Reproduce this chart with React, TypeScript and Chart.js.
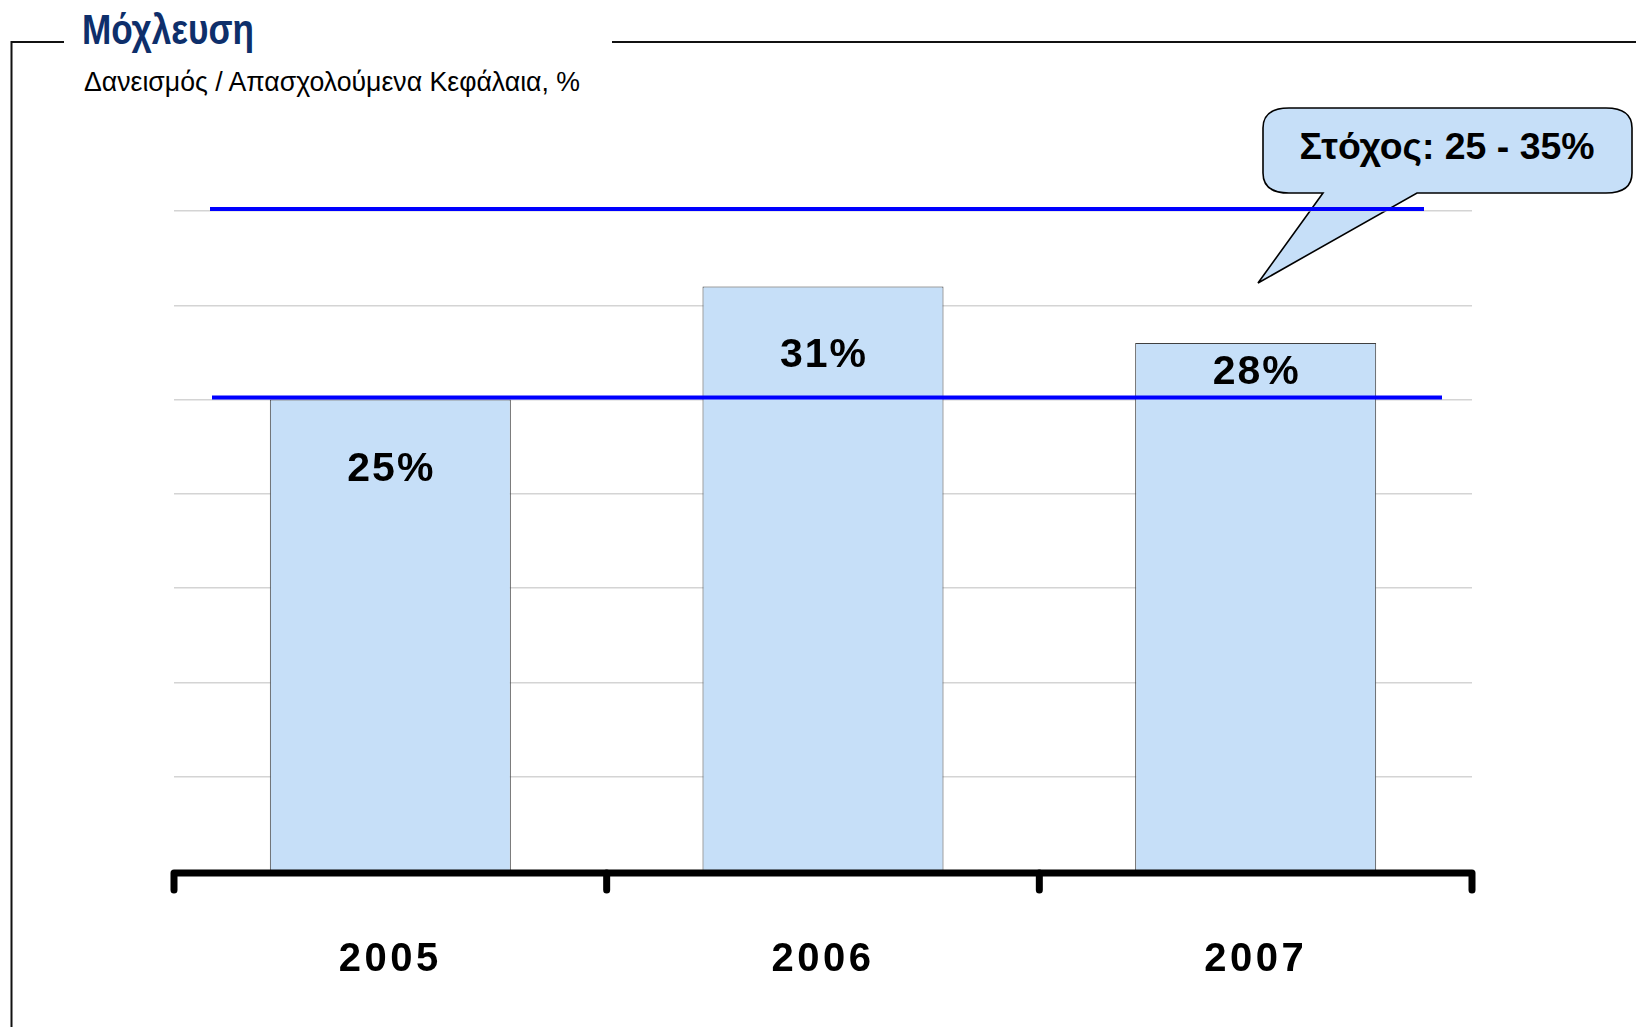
import React, { useEffect, useRef } from "react";
import { Chart, registerables } from "chart.js";

Chart.register(...registerables);

// ---- data ----
const categories = ["2005", "2006", "2007"];
const leverageValues = [25, 31, 28];
const valueLabels = ["25%", "31%", "28%"];
const targetLow = 25;
const targetHigh = 35;
const yMin = 0;
const yMax = 35;
const yStep = 5;
const titleText = "Μόχλευση";
const subtitleText = "Δανεισμός / Απασχολούμενα Κεφάλαια, %";
const calloutText = "Στόχος: 25 - 35%";

// ---- styles ----
const W = 1636;
const H = 1027;
const CANVAS_H = 1049;
const labelBaselineOffsets = [81, 81, 41];
const targetLineInsets = { high: [36, 48], low: [38, 30] };

const decorPlugin = {
  id: "decor",
  beforeDraw(chart: any) {
    chart.ctx.letterSpacing = "3.5px";
  },
  afterDatasetsDraw(chart: any) {
    const { ctx, chartArea, scales } = chart;
    const x = scales.x;
    const y = scales.y;
    ctx.save();
    ctx.letterSpacing = "0px";
    // target band lines
    ctx.strokeStyle = "#0000FF";
    ctx.lineWidth = 4;
    const drawTarget = (v: number, inset: number[]) => {
      const py = y.getPixelForValue(v) - 2;
      ctx.beginPath();
      ctx.moveTo(chartArea.left + inset[0], py);
      ctx.lineTo(chartArea.right - inset[1], py);
      ctx.stroke();
    };
    drawTarget(targetHigh, targetLineInsets.high);
    drawTarget(targetLow, targetLineInsets.low);

    // axis line with category ticks
    const y0 = y.getPixelForValue(0) + 2;
    const half = (x.getPixelForValue(1) - x.getPixelForValue(0)) / 2;
    const bounds: number[] = [];
    for (let i = 0; i < categories.length; i++) bounds.push(x.getPixelForValue(i) - half);
    bounds.push(x.getPixelForValue(categories.length - 1) + half);
    ctx.strokeStyle = "#000";
    ctx.lineWidth = 7;
    ctx.lineCap = "round";
    ctx.lineJoin = "round";
    const tickLen = 17;
    ctx.beginPath();
    ctx.moveTo(bounds[0], y0 + tickLen);
    ctx.lineTo(bounds[0], y0);
    ctx.lineTo(bounds[bounds.length - 1], y0);
    ctx.lineTo(bounds[bounds.length - 1], y0 + tickLen);
    ctx.stroke();
    for (let i = 1; i < bounds.length - 1; i++) {
      ctx.beginPath();
      ctx.moveTo(bounds[i], y0);
      ctx.lineTo(bounds[i], y0 + tickLen);
      ctx.stroke();
    }

    // value labels
    ctx.letterSpacing = "2px";
    ctx.font = "bold 41px 'Liberation Sans', Arial, sans-serif";
    ctx.fillStyle = "#000";
    ctx.textAlign = "center";
    ctx.textBaseline = "alphabetic";
    const meta = chart.getDatasetMeta(0);
    meta.data.forEach((bar: any, i: number) => {
      ctx.fillText(valueLabels[i], bar.x + 1, bar.y + labelBaselineOffsets[i]);
    });
    ctx.restore();
  },
};

export default function App() {
  const canvasRef = useRef<HTMLCanvasElement | null>(null);

  useEffect(() => {
    const canvas = canvasRef.current;
    if (!canvas) return;
    const chart = new Chart(canvas, {
      type: "bar",
      data: {
        labels: categories,
        datasets: [
          {
            data: leverageValues,
            backgroundColor: "#C6DFF8",
            borderColor: "#404040",
            borderWidth: 1,
            barPercentage: 0.557,
            categoryPercentage: 1,
          },
        ],
      },
      options: {
        responsive: false,
        animation: false,
        devicePixelRatio: 1,
        layout: { padding: { left: 174, right: 164, top: 211, bottom: 0 } },
        plugins: {
          legend: { display: false },
          tooltip: { enabled: false },
          title: { display: false },
        },
        scales: {
          x: {
            grid: { display: false, drawTicks: false },
            border: { display: false },
            ticks: {
              color: "#000",
              padding: 65,
              font: { family: "'Liberation Sans', Arial, sans-serif", size: 40, weight: "bold" },
              maxRotation: 0,
            },
          },
          y: {
            min: yMin,
            max: yMax,
            grid: { color: "#d4d4d4", lineWidth: 1.5, drawTicks: false },
            border: { display: false },
            ticks: { display: false, stepSize: yStep },
          },
        },
      },
      plugins: [decorPlugin],
    } as any);
    return () => chart.destroy();
  }, []);

  const rx = 26;
  const ry = 20;
  const bx1 = 1263, by1 = 108, bx2 = 1632, by2 = 193;
  const calloutPath =
    `M ${bx1 + rx} ${by1} H ${bx2 - rx} Q ${bx2} ${by1} ${bx2} ${by1 + ry} V ${by2 - ry} Q ${bx2} ${by2} ${bx2 - rx} ${by2} ` +
    `H 1417 L 1258 283 L 1323 ${by2} H ${bx1 + rx} Q ${bx1} ${by2} ${bx1} ${by2 - ry} V ${by1 + ry} Q ${bx1} ${by1} ${bx1 + rx} ${by1} Z`;

  return (
    <div style={{ position: "fixed", left: 0, top: 0, width: W, height: H, overflow: "hidden", background: "#fff" }}>
      <svg width={W} height={H} style={{ position: "absolute", left: 0, top: 0, zIndex: 0 }}>
        <path d={`M 11.5 1027 V 42 H 64`} fill="none" stroke="#111" strokeWidth={2} />
        <path d={`M 612 42 H 1636`} fill="none" stroke="#111" strokeWidth={2} />
        <text
          x={82}
          y={44}
          fontFamily="'Liberation Sans Narrow', 'Arial Narrow', 'Liberation Sans', Arial, sans-serif"
          fontWeight="bold"
          fontSize={42}
          fill="#0E2F6B"
          textLength={172}
          lengthAdjust="spacingAndGlyphs"
        >
          {titleText}
        </text>
        <text
          x={84}
          y={91}
          fontFamily="'Liberation Sans Narrow', 'Arial Narrow', 'Liberation Sans', Arial, sans-serif"
          fontSize={28}
          fill="#000"
          textLength={496}
          lengthAdjust="spacingAndGlyphs"
        >
          {subtitleText}
        </text>
        <path d={calloutPath} fill="#C6DFF8" stroke="#000" strokeWidth={1.6} />
        <text
          x={1447}
          y={159}
          textAnchor="middle"
          fontFamily="'Liberation Sans', Arial, sans-serif"
          fontWeight="bold"
          fontSize={37}
          fill="#000"
          textLength={295}
          lengthAdjust="spacingAndGlyphs"
        >
          {calloutText}
        </text>
      </svg>
      <canvas
        ref={canvasRef}
        width={W}
        height={CANVAS_H}
        style={{ position: "absolute", left: 0, top: 0, width: W, height: CANVAS_H, zIndex: 1 }}
      />
    </div>
  );
}
